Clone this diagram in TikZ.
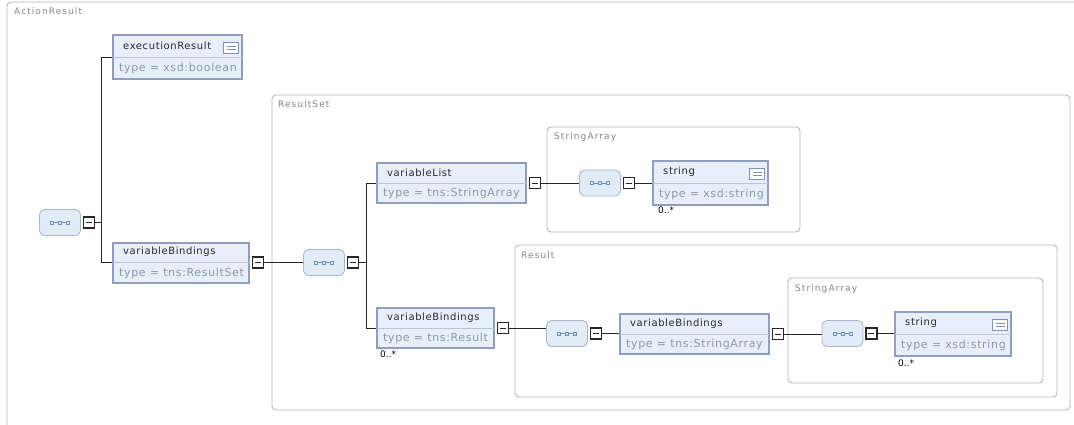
\documentclass[tikz,border=0pt]{standalone}
\usepackage{fontspec}
\setmainfont{DejaVu Sans}
\newfontfamily\titlefont[LetterSpace=6]{DejaVu Sans}
\newfontfamily\typefont[LetterSpace=6]{DejaVu Sans}
\newfontfamily\groupfont[LetterSpace=12]{DejaVu Sans}
\usetikzlibrary{calc,positioning}

\definecolor{elemfill}{HTML}{E8EFFA}
\definecolor{elemdraw}{HTML}{8E9EBC}
\definecolor{titletext}{HTML}{26262E}
\definecolor{typetext}{HTML}{8996AA}
\definecolor{groupdraw}{HTML}{B4B6C0}
\definecolor{grouptext}{HTML}{85858C}
\definecolor{seqfill}{HTML}{E2ECF6}
\definecolor{seqdraw}{HTML}{A6B6C6}
\definecolor{seqdotc}{HTML}{6F8FB8}
\definecolor{icondraw}{HTML}{7892BA}

\tikzset{
  elem/.style={draw=elemdraw, fill=elemfill, line width=2pt, inner sep=0pt},
  elemsplit/.style={draw=elemdraw!60, line width=0.8pt},
  elemtitle/.style={font=\titlefont\fontsize{10}{12}\selectfont, text=titletext, inner sep=1pt},
  elemtype/.style={font=\typefont\fontsize{11}{13}\selectfont, text=typetext, inner sep=1pt},
  seq/.style={draw=seqdraw, fill=seqfill, rounded corners=5pt, minimum width=41pt,
    minimum height=26pt, line width=0.8pt},
  seqdot/.style={draw=seqdotc, line width=0.7pt},
  collapse/.style={draw=black!85, fill=white, line width=1.1pt, minimum size=11pt, inner sep=0pt,
    path picture={\draw[line width=1pt] ([xshift=2.5pt]path picture bounding box.west)
      -- ([xshift=-2.5pt]path picture bounding box.east);}},
  docicon/.style={draw=icondraw, fill=white, line width=0.9pt, minimum width=15pt,
    minimum height=11pt, inner sep=0pt,
    path picture={\draw[icondraw, line width=0.8pt]
      ([xshift=3pt,yshift=1.5pt]path picture bounding box.west) -- ([xshift=-3pt,yshift=1.5pt]path picture bounding box.east)
      ([xshift=3pt,yshift=-1.5pt]path picture bounding box.west) -- ([xshift=-3pt,yshift=-1.5pt]path picture bounding box.east);}},
  group/.style={draw=groupdraw, rounded corners=4pt, line width=0.9pt},
  grouplabel/.style={font=\groupfont\fontsize{9}{11}\selectfont, text=grouptext, anchor=north west, inner sep=0pt},
  mult/.style={font=\fontsize{9}{10}\selectfont, anchor=north west, inner sep=0pt},
  conn/.style={draw=black!85, line width=1pt}
}

% element box: [height] name, centre, width, title, type
\newcommand{\elembox}[6][40pt]{%
  \node[elem, minimum width=#4, minimum height=#1] (#2) at (#3) {};
  \draw[elemsplit] ([xshift=1pt]#2.west) -- ([xshift=-1pt]#2.east);
  \node[elemtitle, anchor=west] (#2-t) at ($(#2.west)!0.5!(#2.north west)+(10,0)$) {#5};
  \node[elemtype, anchor=west] (#2-y) at ($(#2.west)!0.5!(#2.south west)+(6,0)$) {#6};
}
% sequence compositor with its collapse sign
\newcommand{\seqbox}[2]{%
  \node[seq] (#1) at (#2) {};
  \draw[seqdot] ($(#1.center)+(-8,0)$) -- ($(#1.center)+(8,0)$);
  \foreach \dx in {-8,0,8}
    \filldraw[seqdot, fill=seqfill] ($(#1.center)+(\dx-1.6,-1.6)$) rectangle ($(#1.center)+(\dx+1.6,1.6)$);
  \node[collapse, right=2pt of #1] (#1-m) {};
}
% documentation icon
\newcommand{\docicon}[1]{%
  \node[docicon, anchor=north east] (#1-i) at ($(#1.north east)+(-4,8)$) {};
}

\begin{document}
\begin{tikzpicture}[x=1pt,y=-1pt]
\useasboundingbox (0,0) rectangle (1074,424);
\clip (0,0) rectangle (1074,424);
\fill[white] (0,0) rectangle (1074,424);

% containers
\draw[group] (7,2) rectangle (1090,440);
\node[grouplabel] (actionLbl) at (14,7) {ActionResult};
\draw[group] (272,95) rectangle (1070,410);
\node[grouplabel] (resultSetLbl) at (278,100) {ResultSet};
\draw[group] (547,127) rectangle (800,232);
\node[grouplabel] (arrayOneLbl) at (554,132) {StringArray};
\draw[group] (515,245) rectangle (1057,397);
\node[grouplabel] (resultLbl) at (521,251) {Result};
\draw[group] (788,278) rectangle (1043,383);
\node[grouplabel] (arrayTwoLbl) at (795,284) {StringArray};

% sequences
\seqbox{seq1}{60,222.5}
\seqbox{seq2}{324,262.5}
\seqbox{seq3}{600,183}
\seqbox{seq4}{567,333.5}
\seqbox{seq5}{842.5,333.5}

% elements
\elembox[44pt]{execR}{177.5,57}{129pt}{executionResult}{type = xsd:boolean}
\docicon{execR}
\elembox{varB1}{181,262.5}{136pt}{variableBindings}{type = tns:ResultSet}
\node[collapse, right=2pt of varB1] (varB1-m) {};
\elembox{varList}{451.5,183}{149pt}{variableList}{type = tns:StringArray}
\node[collapse, right=2pt of varList] (varList-m) {};
\elembox[44pt]{str1}{710.5,183}{115pt}{string}{type = xsd:string}
\docicon{str1}
\elembox{varB2}{435.5,328}{117pt}{variableBindings}{type = tns:Result}
\node[collapse, right=2pt of varB2] (varB2-m) {};
\elembox{varB3}{694.5,334}{149pt}{variableBindings}{type = tns:StringArray}
\node[collapse, right=2pt of varB3] (varB3-m) {};
\elembox[44pt]{str2}{953,334}{116pt}{string}{type = xsd:string}
\docicon{str2}

% multiplicities
\node[mult] (str1-n) at (658,207) {0..*};
\node[mult] (varB2-n) at (380,351) {0..*};
\node[mult] (str2-n) at (898,360) {0..*};

% connectors
\draw[conn] (seq1-m.east) -- ++(6,0) |- (execR.west);
\draw[conn] (seq1-m.east) -- ++(6,0) |- (varB1.west);
\draw[conn] (varB1-m.east) -- (seq2.west |- varB1-m.east);
\draw[conn] (seq2-m.east) -- ++(7,0) |- (varList.west);
\draw[conn] (seq2-m.east) -- ++(7,0) |- (varB2.west);
\draw[conn] (varList-m.east) -- (seq3.west |- varList-m.east);
\draw[conn] (seq3-m.east) -- (str1.west |- seq3-m.east);
\draw[conn] (varB2-m.east) -- (seq4.west |- varB2-m.east);
\draw[conn] (seq4-m.east) -- (varB3.west |- seq4-m.east);
\draw[conn] (varB3-m.east) -- (seq5.west |- varB3-m.east);
\draw[conn] (seq5-m.east) -- (str2.west |- seq5-m.east);

\end{tikzpicture}
\end{document}
